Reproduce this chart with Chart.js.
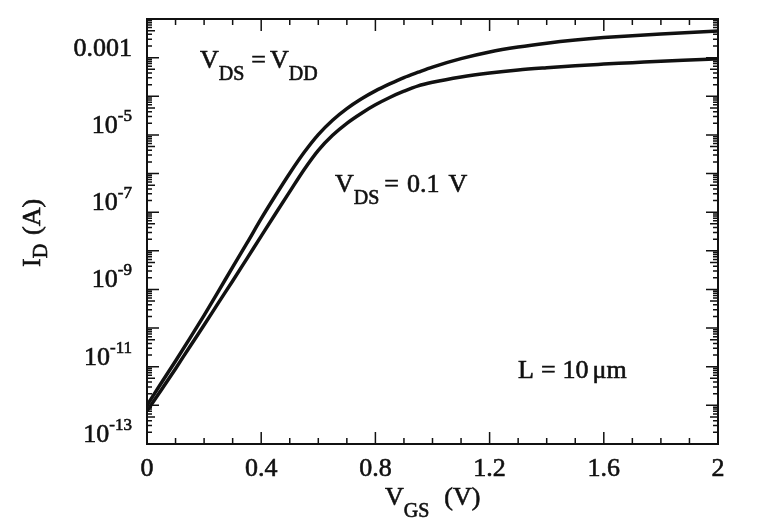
<!DOCTYPE html>
<html lang="en">
<head>
  <meta charset="UTF-8">
  <title>I_D vs V_GS</title>
  <script src="https://cdn.jsdelivr.net/npm/chart.js"></script>
  <style>
    body {
      margin: 0;
      background: #fff;
    }

    .wrap {
      position: relative;
      width: 764px;
      height: 530px;
    }
  </style>
</head>
<body>
  <div class="wrap">
    <canvas id="idChart"></canvas>
  </div>

  <script>
    // gate voltage (V)
    const vgs = [0, 0.05, 0.1, 0.15, 0.2, 0.25, 0.3, 0.35, 0.4, 0.45, 0.5, 0.55, 0.6, 0.65, 0.7, 0.75,
                 0.8, 0.85, 0.9, 0.95, 1.0, 1.1, 1.2, 1.3, 1.4, 1.5, 1.6, 1.7, 1.8, 1.9, 2.0];

    // drain current (A), V_DS = V_DD
    const idVdd = [1.0e-12, 3.8e-12, 1.41e-11, 5.4e-11, 2.14e-10, 8.9e-10, 3.8e-9, 1.58e-8, 6.8e-8, 2.7e-7,
                   1.02e-6, 3.5e-6, 1.02e-5, 2.4e-5, 4.8e-5, 8.5e-5, 1.38e-4, 2.09e-4, 3.05e-4, 4.2e-4,
                   5.7e-4, 9.4e-4, 1.40e-3, 1.88e-3, 2.37e-3, 2.85e-3, 3.3e-3, 3.7e-3, 4.1e-3, 4.5e-3, 4.9e-3];

    // drain current (A), V_DS = 0.1 V
    const idLow = [7.1e-13, 2.5e-12, 8.9e-12, 3.3e-11, 1.2e-10, 4.5e-10, 1.66e-9, 6.3e-9, 2.4e-8, 9.1e-8,
                   3.4e-7, 1.26e-6, 4.0e-6, 9.8e-6, 2.0e-5, 3.6e-5, 6.0e-5, 9.3e-5, 1.35e-4, 1.86e-4,
                   2.3e-4, 3.16e-4, 4.0e-4, 4.8e-4, 5.5e-4, 6.2e-4, 6.8e-4, 7.4e-4, 8.1e-4, 8.7e-4, 9.3e-4];

    const xTickValues = [0, 0.4, 0.8, 1.2, 1.6, 2];
    const xTickLabels = ['0', '0.4', '0.8', '1.2', '1.6', '2'];
    const yTickValues = [1e-3, 1e-5, 1e-7, 1e-9, 1e-11, 1e-13];
    const yTickLabels = ['0.001', '10|-5', '10|-7', '10|-9', '10|-11', '10|-13'];

    const FONT = '"Liberation Serif", "Times New Roman", serif';

    function font(size) {
      return size + 'px ' + FONT;
    }

    // filled text with a thin outline, the print in the original is heavy
    function txt(ctx, s, x, y) {
      ctx.fillText(s, x, y);
      ctx.strokeText(s, x, y);
    }

    // draws runs of text, each run with its own size and vertical shift
    function drawRuns(ctx, runs, x, y) {
      ctx.textAlign = 'left';
      ctx.textBaseline = 'alphabetic';
      let cx = x;
      runs.forEach(r => {
        ctx.font = font(r.size);
        cx += r.gap || 0;
        txt(ctx, r.t, cx, y + (r.dy || 0));
        cx += ctx.measureText(r.t).width;
      });
    }

    const frame = {
      id: 'frame',
      afterDraw(chart) {
        const { ctx, chartArea: a, scales: { x, y } } = chart;
        ctx.save();
        ctx.fillStyle = '#111';
        ctx.strokeStyle = '#111';

        // box
        ctx.lineWidth = 2;
        ctx.strokeRect(a.left, a.top, a.right - a.left, a.bottom - a.top);

        // x ticks, inward, bottom and top
        ctx.lineWidth = 1.5;
        ctx.beginPath();
        for (let i = 0; i <= 20; i++) {
          const px = x.getPixelForValue(i / 10);
          const len = i % 4 === 0 ? 12 : 6;
          ctx.moveTo(px, a.bottom); ctx.lineTo(px, a.bottom - len);
          ctx.moveTo(px, a.top); ctx.lineTo(px, a.top + len);
        }
        // y ticks, inward, left and right
        for (let e = -13; e <= -2; e++) {
          const py = y.getPixelForValue(Math.pow(10, e));
          ctx.moveTo(a.left, py); ctx.lineTo(a.left + 12, py);
          ctx.moveTo(a.right, py); ctx.lineTo(a.right - 12, py);
          if (e === -2) continue;
          for (let k = 2; k <= 9; k++) {
            const pm = y.getPixelForValue(k * Math.pow(10, e));
            const len = k === 5 ? 8 : 5;
            ctx.moveTo(a.left, pm); ctx.lineTo(a.left + len, pm);
            ctx.moveTo(a.right, pm); ctx.lineTo(a.right - len, pm);
          }
        }
        ctx.stroke();

        ctx.lineWidth = 0.6;

        // x tick labels
        ctx.font = font(26);
        ctx.textAlign = 'center';
        ctx.textBaseline = 'alphabetic';
        xTickValues.forEach((v, i) => {
          txt(ctx, xTickLabels[i], x.getPixelForValue(v), a.bottom + 32);
        });

        // y tick labels, sitting just above their tick
        const right = a.left - 15;
        ctx.textAlign = 'left';
        yTickValues.forEach((v, i) => {
          const base = y.getPixelForValue(v) - 2;
          const parts = yTickLabels[i].split('|');
          ctx.font = font(26);
          const w1 = ctx.measureText(parts[0]).width;
          let w2 = 0;
          if (parts[1]) {
            ctx.font = font(17);
            w2 = ctx.measureText(parts[1]).width;
          }
          ctx.font = font(26);
          txt(ctx, parts[0], right - w1 - w2, base);
          if (parts[1]) {
            ctx.font = font(17);
            txt(ctx, parts[1], right - w2, base - 12);
          }
        });

        // axis titles
        drawRuns(ctx, [
          { t: 'V', size: 26 },
          { t: 'GS', size: 20, dy: 12 },
          { t: '(V)', size: 26, gap: 15 }
        ], 385, a.bottom + 61);

        ctx.save();
        ctx.translate(40, 267);
        ctx.rotate(-Math.PI / 2);
        drawRuns(ctx, [
          { t: 'I', size: 26 },
          { t: 'D', size: 20, dy: 7 },
          { t: '(A)', size: 26, gap: 9 }
        ], 0, 0);
        ctx.restore();

        // curve annotations
        drawRuns(ctx, [
          { t: 'V', size: 26 },
          { t: 'DS', size: 20, dy: 12 },
          { t: '=', size: 26, gap: 7 },
          { t: 'V', size: 26, gap: 4 },
          { t: 'DD', size: 20, dy: 12 }
        ], 200, 68);

        drawRuns(ctx, [
          { t: 'V', size: 26 },
          { t: 'DS', size: 20, dy: 12 },
          { t: '=', size: 26, gap: 5 },
          { t: '0.1', size: 26, gap: 8 },
          { t: 'V', size: 26, gap: 9 }
        ], 335, 192);

        drawRuns(ctx, [
          { t: 'L', size: 26 },
          { t: '=', size: 26, gap: 7 },
          { t: '10', size: 26, gap: 7 },
          { t: '\u03bcm', size: 26, gap: 4 }
        ], 518, 378);

        ctx.restore();
      }
    };

    const ctx = document.getElementById('idChart').getContext('2d');
    const idChart = new Chart(ctx, {
      type: 'line',
      data: {
        datasets: [
          {
            label: 'V_DS = V_DD',
            data: vgs.map((v, i) => ({ x: v, y: idVdd[i] })),
            borderColor: '#111',
            borderWidth: 3.5,
            pointRadius: 0,
            cubicInterpolationMode: 'monotone'
          },
          {
            label: 'V_DS = 0.1 V',
            data: vgs.map((v, i) => ({ x: v, y: idLow[i] })),
            borderColor: '#111',
            borderWidth: 3.5,
            pointRadius: 0,
            cubicInterpolationMode: 'monotone'
          }
        ]
      },
      options: {
        responsive: true,
        maintainAspectRatio: false,
        animation: false,
        layout: { padding: { left: 147, top: 19, right: 46, bottom: 86 } },
        plugins: {
          legend: { display: false },
          tooltip: { enabled: false }
        },
        scales: {
          x: { type: 'linear', min: 0, max: 2, display: false },
          y: { type: 'logarithmic', min: 1e-13, max: 1e-2, display: false }
        }
      },
      plugins: [frame]
    });
  </script>
</body>
</html>
